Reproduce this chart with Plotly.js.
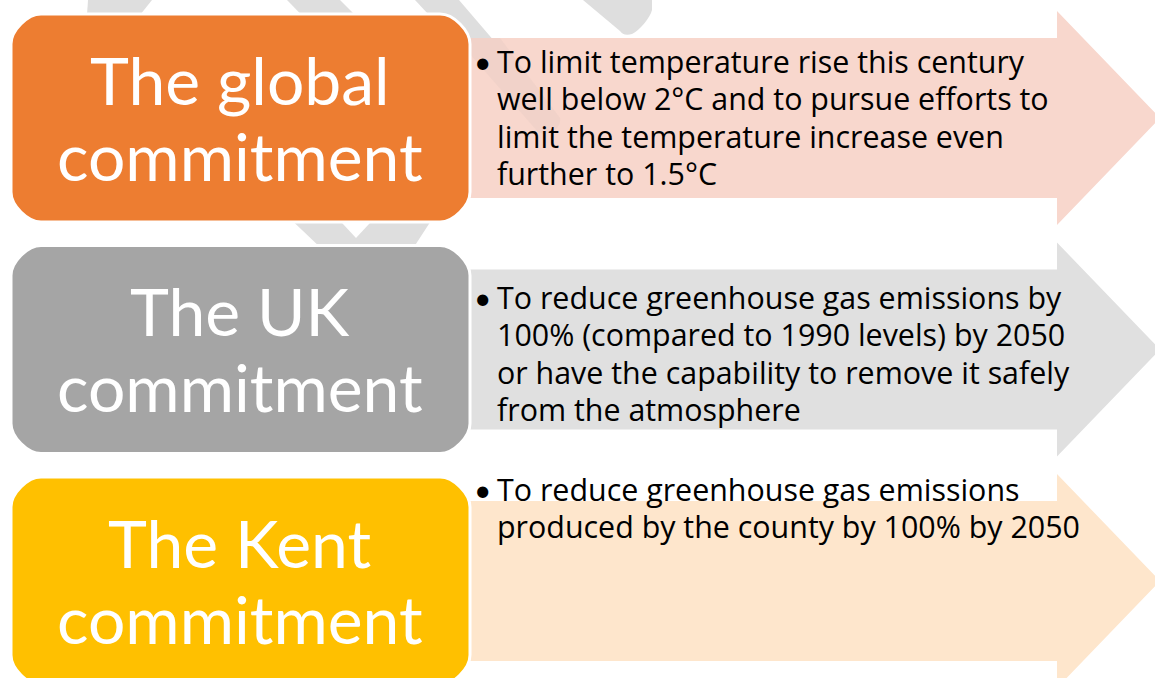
<!DOCTYPE html>
<html>
<head>
<meta charset="utf-8">
<script src="https://cdn.plot.ly/plotly-3.0.1.min.js"></script>
<style>html,body{margin:0;padding:0;background:#fff;}#chart{width:1155px;height:678px;}</style>
</head>
<body>
<div id="chart"></div>
<script>
// ---- data ----
const categories = ["global", "UK", "Kent"];
const titleLine1 = ["The global", "The UK", "The Kent"];
const titleLine2 = ["commitment", "commitment", "commitment"];
const boxColors = ["#ED7D31", "#A5A5A5", "#FFC000"];
const arrowColors = ["#F8D7CD", "#E0E0E0", "#FEE6CC"];
const bulletLines = [
  ["To limit temperature rise this century",
   "well below 2°C and to pursue efforts to",
   "limit the temperature increase even",
   "further to 1.5°C"],
  ["To reduce greenhouse gas emissions by",
   "100% (compared to 1990 levels) by 2050",
   "or have the capability to remove it safely",
   "from the atmosphere"],
  ["To reduce greenhouse gas emissions",
   "produced by the county by 100% by 2050"]
];

// ---- layout geometry ----
const W = 1155, H = 678;
const pitch = 231.5;
const boxX0 = 11, boxX1 = 470, boxH = 208, boxTop0 = 14, radius = 30;
const arrowX0 = 460, headX = 1057, tipX = 1160, bodyTop0 = 38, bodyH = 160, headOver = 27;
const textStart = [61, 297, 489];
const lineGap = 37.5;
const TITLE_FONT = "Lato, 'Open Sans', sans-serif";
const TEXT_FONT = "'Open Sans', 'Noto Sans', sans-serif";

function rr(x0, y0, x1, y1, r) {
  const k = r * 0.45;
  return `M${x0 + r},${y0} L${x1 - r},${y0} C${x1 - r + k},${y0} ${x1},${y0 + r - k} ${x1},${y0 + r} ` +
         `L${x1},${y1 - r} C${x1},${y1 - r + k} ${x1 - r + k},${y1} ${x1 - r},${y1} ` +
         `L${x0 + r},${y1} C${x0 + r - k},${y1} ${x0},${y1 - r + k} ${x0},${y1 - r} ` +
         `L${x0},${y0 + r} C${x0},${y0 + r - k} ${x0 + r - k},${y0} ${x0 + r},${y0} Z`;
}

const shapes = [];
const bg = "#DEDEDE";
// decorative background chevron pieces
shapes.push({type: "path", path: "M88,0 L152,0 L128,30 L86,30 Z", fillcolor: bg, line: {width: 0}});
shapes.push({type: "path", path: "M287,0 L340,0 L372,32 L318,32 Z", fillcolor: bg, line: {width: 0}});
shapes.push({type: "path", path: "M415,0 L459,0 L560,118 C562,128 548,138 538,132 Z", fillcolor: bg, line: {width: 0}});
shapes.push({type: "path", path: "M583,0 L652,0 L652,10 C650,18 640,30 632,34 C626,36 622,34 620,31 Z", fillcolor: bg, line: {width: 0}});
shapes.push({type: "path", path: "M281,210 L330,210 L356,238 L382,210 L438,210 L412,250 L323,250 Z", fillcolor: bg, line: {width: 0}});

// arrows
categories.forEach((c, i) => {
  const bt = bodyTop0 + i * pitch, bb = bt + bodyH;
  const ht = bt - headOver, hb = bb + headOver, mid = (bt + bb) / 2;
  shapes.push({
    type: "path",
    path: `M${arrowX0},${bt} L${headX},${bt} L${headX},${ht} L${tipX},${mid} L${headX},${hb} L${headX},${bb} L${arrowX0},${bb} Z`,
    fillcolor: arrowColors[i], line: {width: 0}
  });
});
// faint band seen through the first arrow
shapes.push({type: "path", path: "M468,38 L500,38 L560,118 C562,128 548,138 538,132 L468,52 Z",
  fillcolor: "rgba(150,150,150,0.07)", line: {width: 0}});

// rounded boxes
categories.forEach((c, i) => {
  const y0 = boxTop0 + i * pitch;
  shapes.push({type: "path", path: rr(boxX0, y0, boxX1, y0 + boxH, radius),
    fillcolor: boxColors[i], line: {color: "#FFFFFF", width: 3}});
});

const annotations = [];
categories.forEach((c, i) => {
  const y0 = boxTop0 + i * pitch;
  const cx = (boxX0 + boxX1) / 2 - 1;
  const cy = y0 + boxH / 2;
  annotations.push({x: cx, y: cy - 39, xref: "x", yref: "y", text: titleLine1[i], showarrow: false,
    xanchor: "center", yanchor: "middle", font: {family: TITLE_FONT, size: 66, color: "#FFFFFF"}});
  annotations.push({x: cx, y: cy + 37, xref: "x", yref: "y", text: titleLine2[i], showarrow: false,
    xanchor: "center", yanchor: "middle", font: {family: TITLE_FONT, size: 66, color: "#FFFFFF"}});
  annotations.push({x: 472, y: textStart[i], xref: "x", yref: "y", text: "•", showarrow: false,
    xanchor: "left", yanchor: "middle", font: {family: TITLE_FONT, size: 30, color: "#000000"}});
  bulletLines[i].forEach((t, j) => {
    annotations.push({x: 495, y: textStart[i] + j * lineGap, xref: "x", yref: "y", text: t, showarrow: false,
      xanchor: "left", yanchor: "middle", font: {family: TEXT_FONT, size: 30.4, color: "#000000"}});
  });
});

const layout = {
  width: W, height: H,
  margin: {l: 0, r: 0, t: 0, b: 0, pad: 0},
  paper_bgcolor: "#FFFFFF", plot_bgcolor: "#FFFFFF",
  showlegend: false,
  xaxis: {range: [0, W], visible: false, fixedrange: true},
  yaxis: {range: [H, 0], visible: false, fixedrange: true},
  shapes: shapes,
  annotations: annotations
};

Plotly.newPlot("chart", [{x: [], y: [], type: "scatter", mode: "markers", hoverinfo: "skip"}], layout,
  {staticPlot: true, displayModeBar: false});
</script>
</body>
</html>
